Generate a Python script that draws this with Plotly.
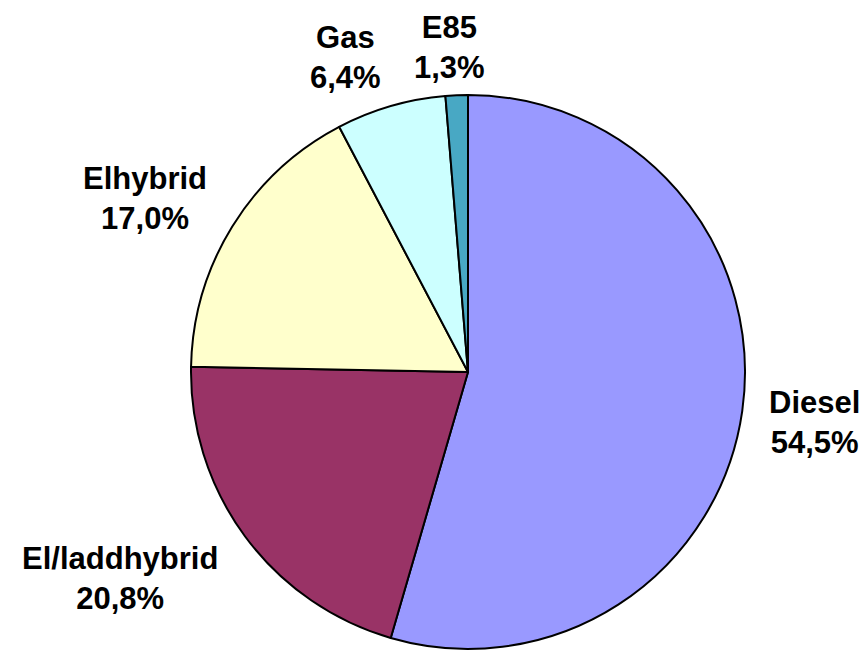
import plotly.graph_objects as go

labels = ["Diesel", "El/laddhybrid", "Elhybrid", "Gas", "E85"]
values = [54.5, 20.8, 17.0, 6.4, 1.3]
value_text = ["54,5%", "20,8%", "17,0%", "6,4%", "1,3%"]
colors = ["#9999FF", "#993366", "#FFFFCC", "#CCFFFF", "#48A8C4"]

W, H = 868, 652
OFF = 8  # page body margin offset
cx, cy, r = 468 - OFF, 372 - OFF, 277

fig = go.Figure(go.Pie(
    labels=labels, values=values, sort=False, direction="clockwise", rotation=0,
    marker=dict(colors=colors, line=dict(color="black", width=2)),
    textinfo="none", hoverinfo="label+percent", showlegend=False,
    domain=dict(x=[(cx - r) / W, (cx + r) / W], y=[(H - cy - r) / H, (H - cy + r) / H]),
))

# label block centres (pixels, in window coordinates)
label_pos = [(814, 422), (120, 578), (145, 198), (345, 57), (450, 48)]
for lab, vt, (px, py) in zip(labels, value_text, label_pos):
    fig.add_annotation(
        x=(px - OFF) / W, y=1 - (py - OFF) / H, xref="paper", yref="paper",
        text=f"<b>{lab}<br>{vt}</b>", showarrow=False, align="center",
        xanchor="center", yanchor="middle",
        font=dict(family="Liberation Sans, Arial", size=31, color="black"),
    )

fig.update_layout(
    width=W, height=H, margin=dict(l=0, r=0, t=0, b=0),
    paper_bgcolor="white", plot_bgcolor="white",
)
fig.write_html("out.html")
